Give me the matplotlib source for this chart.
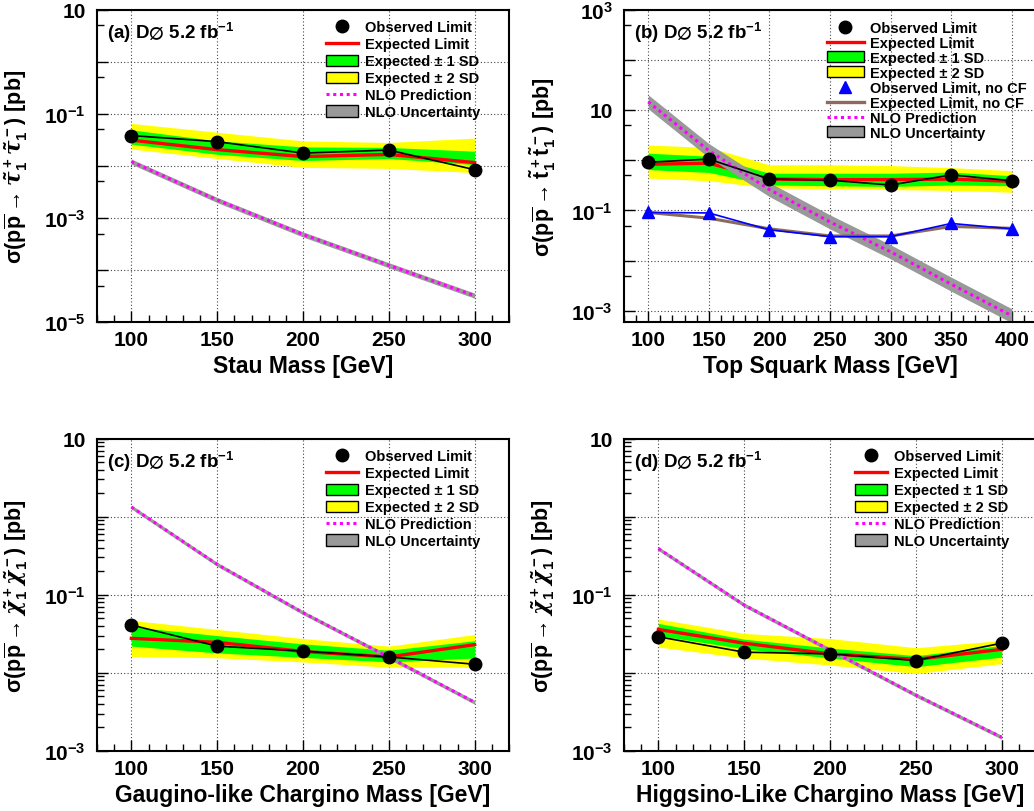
import matplotlib
matplotlib.use("Agg")
import matplotlib.pyplot as plt
import numpy as np
from matplotlib.lines import Line2D
from matplotlib.patches import Patch
from matplotlib.ticker import FuncFormatter, LogLocator, MultipleLocator, NullFormatter

plt.rcParams["font.family"] = ["Liberation Sans", "DejaVu Sans"]
plt.rcParams["font.weight"] = "bold"
plt.rcParams["mathtext.fontset"] = "custom"
plt.rcParams["mathtext.rm"] = "Liberation Sans:bold"
plt.rcParams["mathtext.it"] = "DejaVu Serif:italic"
plt.rcParams["mathtext.bf"] = "Liberation Sans:bold"
plt.rcParams["mathtext.sf"] = "Liberation Sans:bold"
plt.rcParams["mathtext.default"] = "rm"

# (a) stau pairs
mass_a = [100, 150, 200, 250, 300]
obs_a = [0.038, 0.029, 0.0175, 0.020, 0.0084]
exp_a = [0.031, 0.0204, 0.015, 0.0165, 0.0115]
exp1_lo_a = [0.026, 0.0166, 0.0126, 0.0138, 0.0105]
exp1_hi_a = [0.049, 0.030, 0.023, 0.0225, 0.019]
exp2_lo_a = [0.021, 0.0138, 0.0093, 0.0089, 0.0074]
exp2_hi_a = [0.065, 0.044, 0.030, 0.028, 0.034]
nlo_a = [0.012, 0.0022, 4.8e-4, 1.23e-4, 3.2e-5]
nlo_unc_a = 1.12

# (b) top squark pairs
mass_b = [100, 150, 200, 250, 300, 350, 400]
obs_b = [0.91, 1.05, 0.42, 0.40, 0.32, 0.51, 0.39]
exp_b = [0.83, 0.87, 0.42, 0.41, 0.41, 0.42, 0.38]
exp1_lo_b = [0.65, 0.57, 0.32, 0.31, 0.30, 0.32, 0.31]
exp1_hi_b = [1.38, 1.2, 0.55, 0.55, 0.55, 0.58, 0.49]
exp2_lo_b = [0.44, 0.39, 0.28, 0.27, 0.26, 0.25, 0.23]
exp2_hi_b = [2.0, 1.8, 0.81, 0.81, 0.78, 0.71, 0.62]
obs_nocf_b = [0.091, 0.089, 0.041, 0.030, 0.030, 0.055, 0.043]
exp_nocf_b = [0.091, 0.070, 0.043, 0.031, 0.031, 0.048, 0.044]
nlo_b = [14.5, 1.55, 0.26, 0.059, 0.015, 0.0034, 0.0008]
nlo_unc_b = 1.38

# (c) gaugino-like charginos
mass_c = [100, 150, 200, 250, 300]
obs_c = [0.041, 0.022, 0.019, 0.016, 0.0129]
exp_c = [0.0277, 0.0246, 0.0188, 0.016, 0.023]
exp1_lo_c = [0.022, 0.018, 0.0158, 0.0138, 0.0155]
exp1_hi_c = [0.039, 0.030, 0.0235, 0.0195, 0.0258]
exp2_lo_c = [0.0162, 0.0156, 0.0138, 0.0118, 0.0118]
exp2_hi_c = [0.047, 0.036, 0.0275, 0.022, 0.031]
nlo_c = [1.33, 0.245, 0.059, 0.0159, 0.0042]
nlo_unc_c = 1.06

# (d) higgsino-like charginos
mass_d = [100, 150, 200, 250, 300]
obs_d = [0.029, 0.0184, 0.0175, 0.0144, 0.024]
exp_d = [0.036, 0.024, 0.0175, 0.0149, 0.020]
exp1_lo_d = [0.030, 0.0203, 0.0155, 0.012, 0.0159]
exp1_hi_d = [0.043, 0.027, 0.0208, 0.0166, 0.0224]
exp2_lo_d = [0.0214, 0.0155, 0.0126, 0.0098, 0.0131]
exp2_hi_d = [0.049, 0.032, 0.0275, 0.021, 0.026]
nlo_d = [0.39, 0.074, 0.0196, 0.0052, 0.0015]
nlo_unc_d = 1.06

GREEN = "#00ff00"
YELLOW = "#ffff00"
RED = "#ff0000"
MAGENTA = "#ff00ff"
GRAY = "#999999"
BROWN = "#8c6a5c"
BLUE = "#0000ff"


def decade_label(val, pos, shown):
    e = int(round(np.log10(val)))
    if e not in shown:
        return ""
    if e == 1:
        return "10"
    if e == 0:
        return "1"
    return r"$10^{%d}$" % e


def draw_panel(ax, mass, obs, exp, e1lo, e1hi, e2lo, e2hi, nlo, nlo_unc):
    nlo = np.array(nlo)
    ax.fill_between(mass, e2lo, e2hi, color=YELLOW, lw=0, zorder=2)
    ax.fill_between(mass, e1lo, e1hi, color=GREEN, lw=0, zorder=3)
    ax.plot(mass, exp, color=RED, lw=2.4, zorder=4)
    ax.fill_between(mass, nlo / nlo_unc, nlo * nlo_unc, color=GRAY, lw=0, zorder=5)
    ax.plot(mass, nlo, color=MAGENTA, lw=2.2, ls=(0, (1, 1.2)), zorder=6)
    ax.plot(mass, obs, color="black", lw=1.2, marker="o", ms=9, zorder=8)


def style_axis(ax, xlim, ylim, shown, minor_subs, label, xlab, ylab, ylab_x):
    ax.set_yscale("log")
    ax.set_xlim(*xlim)
    ax.set_ylim(*ylim)
    ax.xaxis.set_major_locator(MultipleLocator(50))
    ax.xaxis.set_minor_locator(MultipleLocator(10))
    ax.yaxis.set_major_locator(LogLocator(base=10, numticks=30))
    ax.yaxis.set_major_formatter(FuncFormatter(lambda v, p: decade_label(v, p, shown)))
    ax.yaxis.set_minor_locator(LogLocator(base=10, subs=minor_subs, numticks=30))
    ax.yaxis.set_minor_formatter(NullFormatter())
    ax.tick_params(which="both", direction="in", top=False, right=False,
                   labelsize=15, width=1.0)
    ax.tick_params(axis="x", which="major", length=8, pad=6)
    ax.tick_params(axis="x", which="minor", length=5)
    ax.tick_params(axis="y", which="major", length=8, pad=8)
    ax.tick_params(axis="y", which="minor", length=5)
    ax.grid(True, which="major", color="#444444", lw=0.8, ls=(0, (1, 2)), zorder=1)
    for sp in ax.spines.values():
        sp.set_linewidth(1.5)
        sp.set_zorder(10)
    ax.set_xlabel(xlab, fontsize=16.5, fontweight="bold")
    ax.xaxis.set_label_coords(0.5, -0.103)
    ax.set_ylabel(ylab, fontsize=15.5, fontweight="bold")
    ax.yaxis.set_label_coords(ylab_x, 0.5)
    ax.text(0.024, 0.928, label, transform=ax.transAxes, fontsize=13.5,
            fontweight="bold", va="center", ha="left", zorder=12)


def legend_handles(with_nocf):
    handles = [
        Line2D([], [], color="black", marker="o", ls="none", ms=9),
        Line2D([], [], color=RED, lw=2.4),
        Patch(facecolor=GREEN, edgecolor="black", lw=1),
        Patch(facecolor=YELLOW, edgecolor="black", lw=1),
    ]
    labels = ["Observed Limit", "Expected Limit", "Expected \u00b1 1 SD", "Expected \u00b1 2 SD"]
    if with_nocf:
        handles += [Line2D([], [], color=BLUE, marker="^", ls="none", ms=8),
                    Line2D([], [], color=BROWN, lw=2.4)]
        labels += ["Observed Limit, no CF", "Expected Limit, no CF"]
    handles += [Line2D([], [], color=MAGENTA, lw=2.2, ls=(0, (1, 1.2))),
                Patch(facecolor=GRAY, edgecolor="black", lw=1)]
    labels += ["NLO Prediction", "NLO Uncertainty"]
    return handles, labels


fig = plt.figure(figsize=(10.34, 8.12), dpi=100)
W, H = 1034.0, 812.0
ax_a = fig.add_axes([97 / W, 1 - 323 / H, 412 / W, 312.5 / H])
ax_b = fig.add_axes([624 / W, 1 - 323 / H, 412 / W, 312.5 / H])
ax_c = fig.add_axes([97 / W, 1 - 752 / H, 412 / W, 312.5 / H])
ax_d = fig.add_axes([624 / W, 1 - 752 / H, 412 / W, 312.5 / H])

label_tex = r"D$\varnothing$ 5.2 fb$^{-1}$"

# panel (a)
draw_panel(ax_a, mass_a, obs_a, exp_a, exp1_lo_a, exp1_hi_a, exp2_lo_a, exp2_hi_a, nlo_a, nlo_unc_a)
style_axis(ax_a, (80, 320), (1e-5, 10), {1, -1, -3, -5}, (5,), "(a) " + label_tex,
           "Stau Mass [GeV]",
           r"$\sigma(p\overline{p}\rightarrow\tilde{\mathit{\tau}}_1^+\tilde{\mathit{\tau}}_1^-)$ [pb]",
           -0.162)

# panel (b)
draw_panel(ax_b, mass_b, obs_b, exp_b, exp1_lo_b, exp1_hi_b, exp2_lo_b, exp2_hi_b, nlo_b, nlo_unc_b)
ax_b.plot(mass_b, exp_nocf_b, color=BROWN, lw=2.2, zorder=7)
ax_b.plot(mass_b, obs_nocf_b, color=BLUE, lw=1.2, marker="^", ms=9, zorder=8)
style_axis(ax_b, (80, 420), (6e-4, 1e3), {3, 1, -1, -3}, (5,), "(b) " + label_tex,
           "Top Squark Mass [GeV]",
           r"$\sigma(p\overline{p}\rightarrow\tilde{t}_1^+\tilde{t}_1^-)$ [pb]", -0.16)

# panel (c)
draw_panel(ax_c, mass_c, obs_c, exp_c, exp1_lo_c, exp1_hi_c, exp2_lo_c, exp2_hi_c, nlo_c, nlo_unc_c)
style_axis(ax_c, (80, 320), (1e-3, 10), {1, -1, -3}, np.arange(2, 10), "(c) " + label_tex,
           "Gaugino-like Chargino Mass [GeV]",
           r"$\sigma(p\overline{p}\rightarrow\tilde{\mathit{\chi}}_1^+\tilde{\mathit{\chi}}_1^-)$ [pb]",
           -0.162)

# panel (d)
draw_panel(ax_d, mass_d, obs_d, exp_d, exp1_lo_d, exp1_hi_d, exp2_lo_d, exp2_hi_d, nlo_d, nlo_unc_d)
style_axis(ax_d, (80, 320), (1e-3, 10), {1, -1, -3}, np.arange(2, 10), "(d) " + label_tex,
           "Higgsino-Like Chargino Mass [GeV]",
           r"$\sigma(p\overline{p}\rightarrow\tilde{\mathit{\chi}}_1^+\tilde{\mathit{\chi}}_1^-)$ [pb]",
           -0.162)

for ax, x0, nocf in [(ax_a, 0.555, False), (ax_b, 0.493, True),
                     (ax_c, 0.555, False), (ax_d, 0.560, False)]:
    h, l = legend_handles(nocf)
    if nocf:
        ax.legend(h, l, loc="upper left", bbox_to_anchor=(x0, 0.964), frameon=False,
                  handlelength=2.5, handleheight=0.75, handletextpad=0.45,
                  labelspacing=0.07, borderpad=0, borderaxespad=0,
                  prop={"weight": "bold", "size": 10.5})
    else:
        ax.legend(h, l, loc="upper left", bbox_to_anchor=(x0, 0.965), frameon=False,
                  handlelength=2.2, handleheight=0.8, handletextpad=0.5,
                  labelspacing=0.2, borderpad=0, borderaxespad=0,
                  prop={"weight": "bold", "size": 10.5})

fig.savefig("out.png", dpi=100)
